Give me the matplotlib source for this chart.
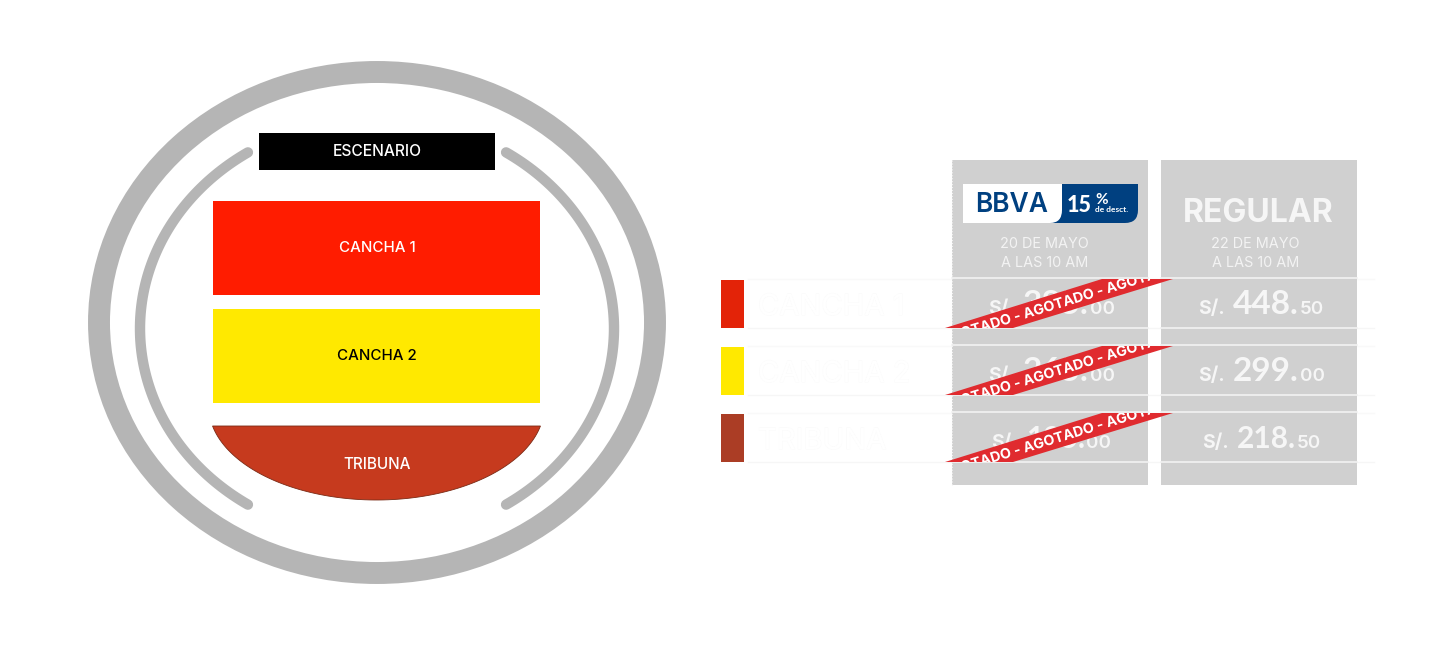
import matplotlib
matplotlib.use("Agg")
import matplotlib.pyplot as plt
import matplotlib.patheffects as pe
from matplotlib.patches import Ellipse, Rectangle, Polygon, PathPatch
from matplotlib.path import Path
import numpy as np

plt.rcParams['font.family'] = ['Inter', 'DejaVu Sans']

# zonas del mapa
zones = ["CANCHA 1", "CANCHA 2"]
zone_colors = ["#ff1c00", "#ffe900"]
zone_text = ["white", "black"]
zone_tops = [201, 309]

# tabla de precios
rows = ["CANCHA 1", "CANCHA 2", "TRIBUNA"]
row_colors = ["#e32308", "#ffe900", "#ab3d25"]
row_tops = [279, 346, 413]
regular_big = ["448.", "299.", "218."]
regular_small = ["50", "00", "50"]
bbva_big = ["385.", "265.", "195."]
bbva_small = ["00", "00", "00"]

GREY = "#b5b5b5"
COL = "#d0d0d0"
RED = "#e02b2f"
WHITE = "#f6f6f6"
BLUE = "#004080"
ribbon_text = "AGOTADO - AGOTADO - AGOTADO"

fig = plt.figure(figsize=(14.4, 6.45), dpi=100)
ax = fig.add_axes([0, 0, 1, 1])
ax.set_xlim(0, 1440)
ax.set_ylim(645, 0)
ax.axis("off")


# precio: S/. + numero grande + decimales, uno detras del otro
def price(x0, base, big, small, size):
    ax.text(x0, base, "S/.", color=WHITE, ha="left", va="baseline", fontsize=14, fontweight="bold")
    b = ax.text(x0 + 35, base, big, color=WHITE, ha="left", va="baseline", fontsize=size,
                fontweight="bold", family="Lato")
    ext = b.get_window_extent(fig.canvas.get_renderer())
    ax.text(ext.x1 + 1, base, small, color=WHITE, ha="left", va="baseline", fontsize=13.5, fontweight="semibold")


# anillo exterior y arcos interiores
cx, cy = 377, 322.5
ax.add_patch(Ellipse((cx, cy), 556, 501, fill=False, ec=GREY, lw=15.8))
for start, end in [(123, 237), (-57, 57)]:
    th = np.radians(np.linspace(start, end, 100))
    ax.plot(cx + 237 * np.cos(th), 328.5 - 210 * np.sin(th), color=GREY, lw=7.5,
            solid_capstyle="round")

# escenario
ax.add_patch(Rectangle((259, 133), 235.5, 37, fc="black", ec="none"))
ax.text(377, 151.5, "ESCENARIO", color="white", ha="center", va="center", fontsize=11.2, fontweight="medium")

for name, col, tcol, top in zip(zones, zone_colors, zone_text, zone_tops):
    ax.add_patch(Rectangle((213, top), 327, 94, fc=col, ec="none"))
    ax.text(377, top + 47.5, name, color=tcol, ha="center", va="center", fontsize=10.9, fontweight="medium")

# tribuna
a = np.arccos(20 / 94)
th = np.linspace(-a, a, 100)
xs = 376.5 + 167.8 * np.sin(th)
ys = 406 + 94 * np.cos(th)
ax.add_patch(Polygon(np.column_stack([xs, ys]), closed=True, fc="#c63a1e", ec="#7a2a15", lw=0.6))
ax.text(377, 464.5, "TRIBUNA", color="white", ha="center", va="center", fontsize=11, fontweight="medium")

# columnas
for x0 in [952, 1161]:
    ax.add_patch(Rectangle((x0, 160), 196, 325, fc=COL, ec="none"))
ax.plot([952, 952], [160, 485], color="#f0f0f0", lw=0.8, ls=":")

ax.text(1258.5, 222, "REGULAR", color=WHITE, ha="center", va="baseline", fontsize=23, fontweight="bold")
for xc, d in [(1044.5, "20 DE MAYO"), (1255.5, "22 DE MAYO")]:
    ax.text(xc, 244.5, d, color="#f3f3f3", ha="center", va="center", fontsize=10.4)
    ax.text(xc, 263, "A LAS 10 AM", color="#f3f3f3", ha="center", va="center", fontsize=10.4)

# logo bbva
ax.add_patch(Rectangle((963, 184), 105, 39, fc="white", ec="none"))
verts = [(1062, 184), (1138, 184), (1138, 210), (1138, 223), (1125, 223), (1050, 223), (1062, 223), (1062, 210), (1062, 184)]
codes = [Path.MOVETO, Path.LINETO, Path.LINETO, Path.CURVE3, Path.CURVE3, Path.LINETO, Path.CURVE3, Path.CURVE3, Path.CLOSEPOLY]
ax.add_patch(PathPatch(Path(verts, codes), fc=BLUE, ec="none"))
ax.text(1012, 212, "BBVA", color=BLUE, ha="center", va="baseline", fontsize=19, fontweight="semibold")
ax.text(1067, 212.5, "15", color="white", ha="left", va="baseline", fontsize=15.5, fontweight="black", family="Lato")
ax.text(1095, 204.5, "%", color="white", ha="left", va="baseline", fontsize=11, fontweight="bold", family="Lato")
ax.text(1095, 212, "de desct.", color="white", ha="left", va="baseline", fontsize=6, fontweight="bold", family="Lato")

H = 49
big_sizes = [24, 24, 21.5]
reg_x = [1198, 1198, 1202]
bbva_x = [988, 988, 991]
for i, top in enumerate(row_tops):
    ax.add_patch(Rectangle((721, top + 1), 23, 48, fc=row_colors[i], ec="none"))
    # lineas: las tenues van debajo de las columnas
    ax.plot([748, 1374], [top, top], color="#f9f9f9", lw=1, zorder=0.5)
    ax.plot([748, 1374], [top + H, top + H], color="#f6f6f6", lw=1, zorder=0.5)
    for x0 in [952, 1161]:
        ax.plot([x0, x0 + 196], [top - 1, top - 1], color="#f2f2f2", lw=1.2)
        ax.plot([x0, x0 + 196], [top + H, top + H], color="#f2f2f2", lw=1.2)
    # texto blanco con borde tenue
    lab = ax.text(758, top + 36, rows[i], color="white", ha="left", va="baseline", fontsize=21)
    lab.set_path_effects([pe.withStroke(linewidth=0.8, foreground="#fbfbfb"), pe.Normal()])
    price(reg_x[i], top + 35, regular_big[i], regular_small[i], big_sizes[i])
    price(bbva_x[i], top + 35, bbva_big[i], bbva_small[i], big_sizes[i])
    # cinta agotado
    rib = Polygon([(945, top + H), (1102, top), (1173, top), (1013, top + H)], closed=True, fc=RED, ec="none", zorder=5)
    ax.add_patch(rib)
    t = ax.text(942, top + 65, ribbon_text, color="white", ha="left", va="baseline", rotation=17,
                rotation_mode="anchor", fontsize=10.2, fontweight="bold", zorder=6)
    # con path effect el texto va como path y respeta el clip de la cinta
    t.set_path_effects([pe.Normal()])
    t.set_clip_on(True)
    t.set_clip_path(rib)

fig.savefig("out.png", dpi=100, facecolor="white")
